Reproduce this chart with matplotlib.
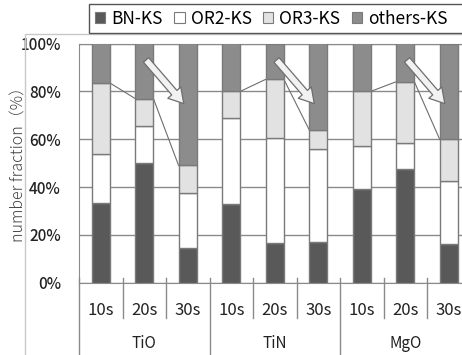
"""Stacked number-fraction bars for BN/OR2/OR3/others KS inclusions."""

import numpy as np
import matplotlib
matplotlib.use("Agg")
import matplotlib.pyplot as plt
from matplotlib.patches import Rectangle, Patch
from matplotlib.lines import Line2D

plt.rcParams["font.family"] = ["Noto Sans CJK JP", "DejaVu Sans"]

# data (percent, bottom -> top)
groups = ["TiO", "TiN", "MgO"]
times = ["10s", "20s", "30s"]
bn_ks = [33.5, 50.0, 14.5, 33.0, 16.5, 17.0, 39.0, 47.5, 16.0]
or2_ks = [20.5, 15.5, 23.0, 36.0, 44.0, 39.0, 18.0, 11.0, 26.5]
or3_ks = [29.5, 11.5, 11.5, 11.0, 24.5, 8.0, 23.0, 25.5, 17.5]
others_ks = [16.5, 23.0, 51.0, 20.0, 15.0, 36.0, 20.0, 16.0, 40.0]
series_names = ["BN-KS", "OR2-KS", "OR3-KS", "others-KS"]
yticks = [0, 20, 40, 60, 80, 100]

colors = ["#595959", "#ffffff", "#e2e2e2", "#8c8c8c"]
edge = "#7a7a7a"

W, H = 462, 355
fig = plt.figure(figsize=(W / 100, H / 100), dpi=100)

# chart area border
fig.add_artist(Rectangle((25 / W, -0.1), 1.2, 1 - 34 / H + 0.1,
                         transform=fig.transFigure, fill=False,
                         ec="#c8c8c8", lw=1))

ax = fig.add_axes([79 / W, 1 - 282.7 / H, 391.5 / W, 239.2 / H])
x = np.arange(len(bn_ks))
width = 0.42
bottom = np.zeros(len(x))
for vals, c in zip([bn_ks, or2_ks, or3_ks, others_ks], colors):
    ax.bar(x, vals, width, bottom=bottom, color=c, edgecolor=edge,
           linewidth=1, zorder=3)
    bottom += np.array(vals)

# series lines on top of OR3 segment within each group
or3_top = np.array(bn_ks) + np.array(or2_ks) + np.array(or3_ks)
for g in range(len(groups)):
    for k in range(len(times) - 1):
        j = g * len(times) + k
        ax.plot([x[j] + width / 2, x[j + 1] - width / 2],
                [or3_top[j], or3_top[j + 1]], color="#6e6e6e", lw=0.8,
                zorder=2)

# arrows from 20s to 30s
for g in range(len(groups)):
    i = g * len(times)
    ax.annotate("", xy=(i + 1.95, 74), xytext=(i + 1.0, 94),
                arrowprops=dict(arrowstyle="simple,head_length=0.8,head_width=0.95,tail_width=0.38",
                                fc="#f2f2f2", ec="#6e6e6e", lw=0.9,
                                mutation_scale=13),
                zorder=5)

ax.set_xlim(-0.5, len(x) - 0.5)
ax.set_ylim(0, 100)
ax.set_yticks(yticks)
ax.set_yticklabels([f"{t}%" for t in yticks], fontsize=11, weight="medium",
                   color="#222222")
ax.yaxis.grid(True, color="#8a8a8a", lw=1, zorder=1)
ax.tick_params(axis="y", length=0, pad=13)
ax.set_xticks([])
for s in ["left", "bottom", "top"]:
    ax.spines[s].set_color("#8a8a8a")
ax.spines["right"].set_visible(False)

# category axis: times and groups with separator lines
for j in x:
    ax.text(j, -0.117, times[j % len(times)], transform=ax.get_xaxis_transform(),
            ha="center", va="center", fontsize=12, color="#222222")
for g, name in enumerate(groups):
    ax.text(g * 3 + 1, -0.256, name, transform=ax.get_xaxis_transform(),
            ha="center", va="center", fontsize=11, color="#222222")
for j in range(len(x) + 1):
    lo = -0.34 if j % 3 == 0 else -0.148
    ax.add_line(Line2D([j - 0.5, j - 0.5], [0.02, lo], color="#8a8a8a", lw=1,
                       transform=ax.get_xaxis_transform(), clip_on=False))

fig.text(19.5 / W, 1 - 160 / H, "number fraction（%）", rotation=90,
         ha="center", va="center", fontsize=11.5, color="#444444",
         weight="light")

# legend box
fig.add_artist(Rectangle((89 / W, 1 - 33 / H), 1.0, 29 / H,
                         transform=fig.transFigure, fc="white", ec="#555555",
                         lw=1, zorder=4))
handles = [Patch(fc=c, ec=edge, lw=0.8) for c in colors]
leg = fig.legend(handles, series_names, loc="center left",
                 bbox_to_anchor=(95 / W, 1 - 19 / H), ncol=4, frameon=False,
                 fontsize=12.5, handlelength=0.6, handleheight=0.6,
                 handletextpad=0.35, columnspacing=0.65, borderaxespad=0,
                 borderpad=0)
leg.set_zorder(6)

fig.savefig("out.png", dpi=100)
